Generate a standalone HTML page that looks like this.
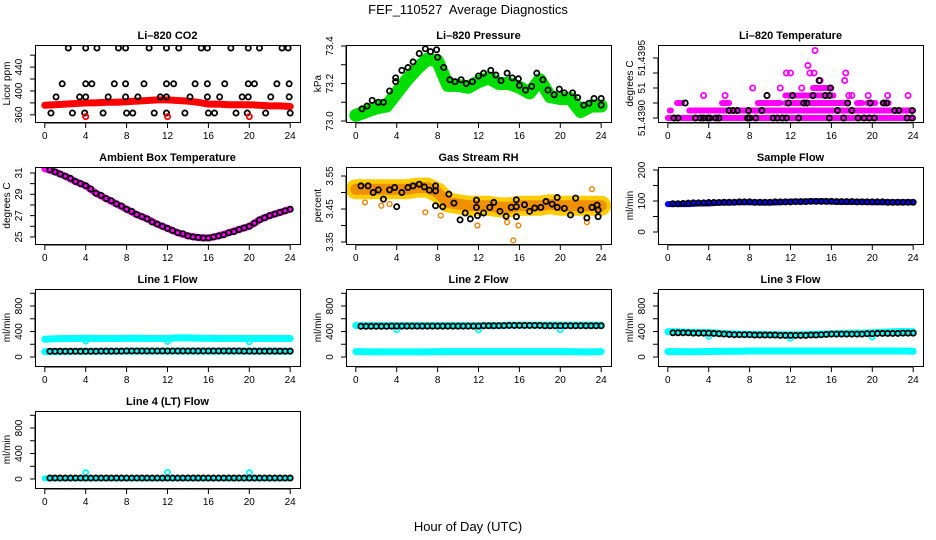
<!DOCTYPE html>
<html><head><meta charset="utf-8"><style>
html,body{margin:0;padding:0;background:#fff;}
svg{display:block;font-family:"Liberation Sans",Arial,sans-serif;}
</style></head><body>
<svg id="chart" width="936" height="540" viewBox="0 0 936 540" xmlns="http://www.w3.org/2000/svg">
<rect width="936" height="540" fill="#fff"/>
<text x="468" y="14" text-anchor="middle" font-size="13">FEF_110527&#160; Average Diagnostics</text>
<text x="468" y="531" text-anchor="middle" font-size="13">Hour of Day (UTC)</text>
</svg>
<script>
// ---------- data ----------
const halfHours=[0.5,1,1.5,2,2.5,3,3.5,4,4.5,5,5.5,6,6.5,7,7.5,8,8.5,9,9.5,10,10.5,11,11.5,12,12.5,13,13.5,14,14.5,15,15.5,16,16.5,17,17.5,18,18.5,19,19.5,20,20.5,21,21.5,22,22.5,23,23.5,24];
const hours=[0,1,2,3,4,5,6,7,8,9,10,11,12,13,14,15,16,17,18,19,20,21,22,23,24];
const xTicks=[0,4,8,12,16,20,24];

// CO2
const co2BandVals=[376,377,378,379,380,380,381,381,382,383,384,385,385,384,383,381,378,378,377,377,377,376,375,375,374];
const co2BlackX=[2.3,4.0,5.1,7.2,7.9,10.2,11.9,13.1,15.3,15.9,18.2,19.9,21.0,23.2,23.8,1.7,4.0,4.6,6.8,7.9,9.7,11.9,12.6,14.7,15.9,17.6,19.9,20.5,22.7,23.9,1.1,3.4,4.0,6.2,7.9,9.1,11.3,11.9,14.2,15.9,17.1,19.3,19.9,22.1,23.9,0.6,2.7,3.9,5.7,8.0,8.6,10.7,11.9,13.7,16.0,16.6,18.7,19.8,21.6,24.0];
const co2BlackY=[472,472,472,472,472,472,472,472,472,472,472,472,472,472,472,412,412,412,412,412,412,412,412,412,412,412,412,412,412,412,390,390,390,390,390,390,390,390,390,390,390,390,390,390,390,363,363,363,363,363,363,363,363,363,363,363,363,363,363,363];
const co2RedX=[4,12,20];
const co2RedY=[357,357,357];

// Pressure
const presBandVals=[73.03,73.05,73.07,73.08,73.15,73.22,73.28,73.33,73.32,73.19,73.19,73.18,73.21,73.23,73.2,73.2,73.18,73.15,73.22,73.13,73.12,73.12,73.05,73.08,73.08];
const presBlackX=[0.6,1.1,1.6,2.2,2.7,3.3,3.9,3.9,4.5,5.1,5.6,6.2,6.8,7.3,7.9,8,8.6,9.2,9.7,10.3,10.8,11.4,12,12.5,13.2,13.7,14.2,14.8,15.3,15.9,16,16.6,17.2,17.7,18.3,18.8,19.4,19.9,20.4,21.2,21.7,22.3,22.8,23.3,24,24];
const presBlackY=[73.065,73.08,73.11,73.1,73.1,73.16,73.21,73.23,73.27,73.285,73.315,73.36,73.385,73.37,73.38,73.34,73.285,73.22,73.21,73.22,73.2,73.21,73.24,73.255,73.27,73.245,73.215,73.255,73.23,73.225,73.19,73.165,73.185,73.255,73.22,73.165,73.14,73.17,73.15,73.15,73.125,73.085,73.095,73.12,73.12,73.085];

// Li-820 temperature (level index k -> 51.4390 + k*0.0000625)
const tempSegStart=[0,0.2,2.1,9.5,0.9,5.3,8.8,11.5,18.5,19.5,21,11.5,14.2];
const tempSegEnd=[24,0.3,9,24,1.4,6,11,17.5,19,20.3,21.6,16.2,16];
const tempSegLevel=[0,1,1,1,2,2,2,2,2,2,2,3,4];
const tempPinkX=[3.5,5.6,9.7,17.7,18,19.6,21.5,23.5,8.3,11,13.1,14.9,17.3,11.6,12,13.9,14.3,17.4,13.7,14.4];
const tempPinkK=[3,3,3,3,3,3,3,3,4,4,4,5,5,6,6,6,6,6,7,9];
const tempBlackX=[0.6,1,2.7,3.2,3.5,3.9,4.1,4.7,5,7.8,8,8.6,10.3,10.7,11.2,11.6,12.8,15.8,17.2,18.6,19.2,19.7,20.2,23.4,23.9,6,6.4,6.8,7.9,9.2,16.6,18,22.2,22.6,23.9,1.7,11.8,13.3,13.6,17.6,19.8,21.1,21.4,9.7,12.2,14.2,15.4,15.8,15.9,14.8];
const tempBlackK=[0,0,0,0,0,0,0,0,0,0,0,0,0,0,0,0,0,0,0,0,0,0,0,0,0,1,1,1,1,1,1,1,1,1,1,2,2,2,2,2,2,2,2,3,3,3,3,3,4,5];

// Ambient box temperature
const ambBandVals=[31.4,31.1,30.7,30.2,29.8,29.1,28.6,28.1,27.6,27.1,26.7,26.2,25.8,25.4,25.1,24.95,24.9,25.1,25.4,25.7,26.0,26.6,27.0,27.3,27.6];
const ambBlackVals=[31.3,31.1,30.9,30.7,30.5,30.2,30.0,29.8,29.5,29.1,28.9,28.6,28.4,28.1,27.9,27.6,27.4,27.1,26.9,26.7,26.4,26.2,26.0,25.8,25.6,25.4,25.3,25.1,25.0,24.95,24.9,24.9,25.0,25.1,25.2,25.4,25.5,25.7,25.85,26.0,26.3,26.6,26.8,27.0,27.15,27.3,27.45,27.6];

// Gas stream RH
const rhBandVals=[3.51,3.51,3.51,3.51,3.51,3.51,3.515,3.515,3.50,3.47,3.465,3.46,3.46,3.46,3.455,3.455,3.46,3.46,3.46,3.465,3.46,3.46,3.46,3.46,3.46];
const rhOutX=[6.8,8.3,11.9,14.8,15.9,15.4,22.6,23.1,0.9,2.5,3.3];
const rhOutY=[3.44,3.43,3.40,3.41,3.40,3.355,3.41,3.51,3.47,3.46,3.465];
const rhBlackX=[0.5,1.2,1.7,2.2,2.7,3.3,3.8,4,4.5,5.1,5.6,6.2,6.7,7.2,7.8,7.8,7.8,8.5,9.1,9.6,10.2,10.7,11.2,11.8,11.8,11.9,12.5,13.1,13.5,14.1,14.7,15.2,15.7,15.7,15.7,16.5,17,17.5,18.1,18.6,19.2,19.7,19.7,20.4,21,21.5,22,22.6,23.1,23.6,23.7,23.7];
const rhBlackY=[3.52,3.52,3.50,3.508,3.48,3.508,3.515,3.457,3.50,3.515,3.52,3.525,3.517,3.507,3.52,3.505,3.46,3.457,3.495,3.468,3.417,3.438,3.42,3.477,3.455,3.43,3.438,3.455,3.47,3.443,3.428,3.455,3.478,3.457,3.427,3.463,3.443,3.453,3.455,3.473,3.465,3.485,3.455,3.452,3.432,3.483,3.447,3.423,3.455,3.462,3.447,3.427];

// Sample flow
const sampBandVals=[90,90,90,92,92,95,95,96,96,95,95,96,98,98,99,99,98,97,97,97,96,96,96,96,96];
const sampBlackVals=[91,91,92,93,94,94,94,95,95,95,96,96,96,97,97,97,96,96,96,96,97,97,97,97,98,98,98,99,99,99,99,99,98,98,98,98,97,97,97,97,97,97,96,96,96,96,96,96];

// Line flows
const l1UpperVals=[280,285,290,290,295,290,290,290,292,295,290,290,292,300,300,295,292,290,290,290,290,290,290,290,290];
const l1LowerVals=[85,85,88,90,90,90,90,90,92,92,92,92,92,92,92,92,92,92,92,92,92,92,92,90,90];
const l1BlackVals=[90,90,90,90,90,90,90,90,90,90,92,92,92,92,92,95,95,95,95,95,95,95,95,95,95,95,95,95,95,95,95,95,95,95,95,95,95,95,92,92,92,92,92,92,92,92,92,92];
const l2UpperVals=[495,495,495,495,495,495,495,495,495,495,495,495,495,495,495,500,500,500,500,500,500,500,500,500,500];
const l2LowerVals=[85,82,80,80,80,80,80,80,85,85,85,85,85,85,85,85,85,85,85,85,85,85,80,80,85];
const l2BlackVals=[482,482,482,482,482,482,485,485,485,485,485,485,485,485,485,485,485,485,485,485,485,485,485,485,490,490,490,490,492,495,495,495,495,495,495,495,490,490,490,490,490,490,490,490,490,490,490,490];
const l3UpperVals=[395,395,390,385,385,375,365,360,355,355,350,350,350,350,355,360,365,370,375,375,380,390,395,400,395];
const l3LowerVals=[85,85,82,82,88,88,90,90,95,95,95,95,95,95,95,95,95,95,95,95,95,95,95,95,90];
const l3BlackVals=[380,380,380,380,375,375,375,375,370,365,360,355,350,350,350,350,345,345,345,345,345,340,340,340,340,340,340,345,345,350,355,360,360,360,360,360,360,360,365,365,370,370,370,370,370,375,375,375];
const l4CyanVals=[10,10,10,10,10,10,10,10,10,10,10,10,10,10,10,10,10,10,10,10,10,10,10,10,10];
const l4BlackVals=[15,15,15,15,15,15,15,15,15,15,15,15,15,15,15,15,15,15,15,15,15,15,15,15,15,15,15,15,15,15,15,15,15,15,15,15,15,15,15,15,15,15,15,15,15,15,15,15];
const dipX=[4,12,20];
const l1DipY=[250,245,240];
const l2DipY=[430,425,430];
const l3DipY=[325,295,315];
const l4BumpY=[100,105,100];

// ---------- drawing ----------
const NS="http://www.w3.org/2000/svg";
const svg=document.getElementById('chart');
const W=265,H=77;
function mk(tag,attrs,parent){const e=document.createElementNS(NS,tag);for(const k in attrs)e.setAttribute(k,attrs[k]);(parent||svg).appendChild(e);return e;}

function panel(id,L,T,title,ylab,ymin,ymax,yTicks,yLabelVals,yLabelText){
  const g=mk('g',{});
  
  
  const sx=h=>L+W*0.96/25.92+h*W/25.92;
  const sy=v=>T+H-(v-ymin)/(ymax-ymin)*H;
  const cp=mk('clipPath',{id:'clip-'+id},g);
  mk('rect',{x:L,y:T,width:W,height:H},cp);
  const data=mk('g',{'clip-path':'url(#clip-'+id+')'},g);
  
  
  const box=mk('rect',{x:L+0.5,y:T+0.5,width:W,height:H,fill:'none',stroke:'#000','stroke-width':1},g);
  
  
  const t=mk('text',{x:L+W/2,y:T-6,'text-anchor':'middle','font-size':11,'font-weight':'bold'},g);
  t.textContent=title;
  
  
  const xb=T+H+1;
  mk('line',{x1:sx(0),x2:sx(24),y1:xb,y2:xb,stroke:'#000'},g);
  xTicks.forEach(v=>{
    mk('line',{x1:sx(v),x2:sx(v),y1:xb,y2:xb+5,stroke:'#000'},g);
    const tl=mk('text',{x:sx(v),y:xb+16,'text-anchor':'middle','font-size':10},g);
    tl.textContent=v;
    
    
  });
  mk('line',{x1:L,x2:L,y1:sy(yTicks[0]),y2:sy(yTicks[yTicks.length-1]),stroke:'#000'},g);
  yTicks.forEach(v=>mk('line',{x1:L-5,x2:L,y1:sy(v),y2:sy(v),stroke:'#000'},g));
  yLabelVals.forEach((v,i)=>{
    const yy=sy(v);
    const tl=mk('text',{x:L-13,y:yy,'text-anchor':'middle','font-size':10,transform:'rotate(-90 '+(L-13)+' '+yy+')'},g);
    tl.textContent=yLabelText[i];
    
    
  });
  const yc=T+H/2;
  const yt=mk('text',{x:L-25,y:yc,'text-anchor':'middle','font-size':10,transform:'rotate(-90 '+(L-25)+' '+yc+')'},g);
  yt.textContent=ylab;
  
  
  return {sx,sy,data};
}
function band(p,xs,vals,color,w,name){
  const pts=xs.map((x,i)=>p.sx(x).toFixed(1)+','+p.sy(vals[i]).toFixed(1)).join(' ');
  const e=mk('polyline',{points:pts,fill:'none',stroke:color,'stroke-width':w,'stroke-linejoin':'round','stroke-linecap':'round'},p.data);
  
  
}
function circles(p,xs,ys,color,name,r,sw){
  xs.forEach((x,i)=>{
    const c=mk('circle',{cx:p.sx(x),cy:p.sy(ys[i]),r:r||2.6,fill:'none',stroke:color,'stroke-width':sw||1.8},p.data);
    
    
  });
}

const Ls=[35,346,658],Ts=[45,167,289,411];

let p=panel('co2',Ls[0],Ts[0],'Li\u2013820 CO2','Licor ppm',348,477,[360,380,400,420,440,460],[360,400,440],['360','400','440']);
band(p,hours,co2BandVals,'#ff0000',7,'co2-band');
circles(p,co2BlackX,co2BlackY,'#000','co2-point');
circles(p,co2RedX,co2RedY,'#ff0000','co2-red-point');

p=panel('pressure',Ls[1],Ts[0],'Li\u2013820 Pressure','kPa',72.9947,73.4053,[73.0,73.1,73.2,73.3,73.4],[73.0,73.2,73.4],['73.0','73.2','73.4']);
band(p,hours,presBandVals,'#00dd00',13,'pressure-band');
circles(p,presBlackX,presBlackY,'#000','pressure-point');

const tBase=51.4390,tStep=0.0000625;
p=panel('li820-temp',Ls[2],Ts[0],'Li\u2013820 Temperature','degrees C',51.438967,51.439608,[51.4390,51.439125,51.43925,51.439375,51.4395],[51.4390,51.43925,51.4395],['51.4390','51','51.4395']);
tempSegStart.forEach((s,i)=>{
  const yy=p.sy(tBase+tempSegLevel[i]*tStep);
  const e=mk('line',{x1:p.sx(s),x2:p.sx(tempSegEnd[i]),y1:yy,y2:yy,stroke:'#ff00ff','stroke-width':6,'stroke-linecap':'round'},p.data);
  
  
});
circles(p,tempPinkX,tempPinkK.map(k=>tBase+k*tStep),'#ff00ff','temp-pink-point');
circles(p,tempBlackX,tempBlackK.map(k=>tBase+k*tStep),'#000','temp-point');

p=panel('ambient',Ls[0],Ts[1],'Ambient Box Temperature','degrees C',24.34,31.56,[25,26,27,28,29,30,31],[25,27,29,31],['25','27','29','31']);
band(p,hours,ambBandVals,'#ff00ff',7,'ambient-band');
circles(p,halfHours,ambBlackVals,'#000','ambient-point');

p=panel('rh',Ls[1],Ts[1],'Gas Stream RH','percent',3.344,3.5773,[3.35,3.40,3.45,3.50,3.55],[3.35,3.45,3.55],['3.35','3.45','3.55']);
band(p,hours,rhBandVals,'#ffcc00',20,'rh-band-outer');
band(p,hours,rhBandVals,'#f09000',11,'rh-band');
circles(p,rhOutX,rhOutY,'#f08000','rh-outlier',2.4,1.4);
circles(p,rhBlackX,rhBlackY,'#000','rh-point');

p=panel('sample-flow',Ls[2],Ts[1],'Sample Flow','ml/min',-38.7,209.7,[0,50,100,150,200],[0,100,200],['0','100','200']);
band(p,hours,sampBandVals,'#0000ff',6,'sample-band');
circles(p,halfHours,sampBlackVals,'#000','sample-point');

const fT=[0,200,400,600,800,1000],fL=[0,400,800],fLT=['0','400','800'];
p=panel('line1',Ls[0],Ts[2],'Line 1 Flow','ml/min',-141,1067,fT,fL,fLT);
band(p,hours,l1UpperVals,'#00ffff',7,'line1-cyan-upper');
band(p,hours,l1LowerVals,'#00ffff',7,'line1-cyan-lower');
circles(p,dipX,l1DipY,'#00ffff','line1-cyan-point');
circles(p,halfHours,l1BlackVals,'#000','line1-point');

p=panel('line2',Ls[1],Ts[2],'Line 2 Flow','ml/min',-141,1067,fT,fL,fLT);
band(p,hours,l2UpperVals,'#00ffff',7,'line2-cyan-upper');
band(p,hours,l2LowerVals,'#00ffff',7,'line2-cyan-lower');
circles(p,dipX,l2DipY,'#00ffff','line2-cyan-point');
circles(p,halfHours,l2BlackVals,'#000','line2-point');

p=panel('line3',Ls[2],Ts[2],'Line 3 Flow','ml/min',-141,1067,fT,fL,fLT);
band(p,hours,l3UpperVals,'#00ffff',7,'line3-cyan-upper');
band(p,hours,l3LowerVals,'#00ffff',7,'line3-cyan-lower');
circles(p,dipX,l3DipY,'#00ffff','line3-cyan-point');
circles(p,halfHours,l3BlackVals,'#000','line3-point');

p=panel('line4',Ls[0],Ts[3],'Line 4 (LT) Flow','ml/min',-141,1067,fT,fL,fLT);
band(p,hours,l4CyanVals,'#00ffff',6,'line4-cyan');
circles(p,dipX,l4BumpY,'#00ffff','line4-cyan-point');
circles(p,halfHours,l4BlackVals,'#000','line4-point');
</script>
</body></html>
